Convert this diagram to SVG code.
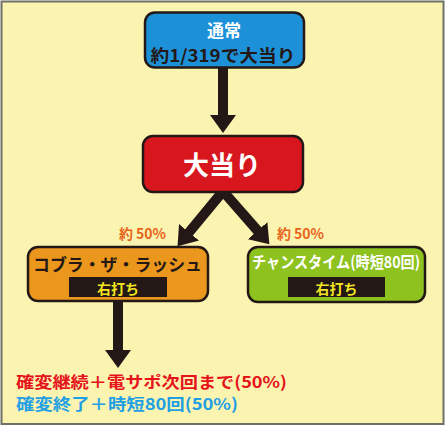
<svg xmlns="http://www.w3.org/2000/svg" width="446" height="426" viewBox="0 0 446 426">
  <style>
    text { font-family: "Noto Sans CJK JP", "Noto Sans", sans-serif; font-weight: bold; text-anchor: middle; }
    .box { stroke: #231815; stroke-width: 2.5; }
    .tag { fill: #231815; }
    .tagtxt { fill: #F3E620; font-size: 14px; }
    .dark { fill: #231815; }
    .white { fill: #FFFFFF; }
    .pct { fill: #E8631A; font-size: 14px; }
    .shaft { stroke: #231815; stroke-width: 10; fill: none; }
  </style>
  <defs>
    <marker id="head" markerUnits="userSpaceOnUse" markerWidth="20" markerHeight="26" refX="1" refY="13" orient="auto" viewBox="0 0 20 26">
      <path d="M0,0 L18,13 L0,26 z" fill="#231815"/>
    </marker>
  </defs>
  <rect x="1.5" y="1.5" width="442" height="422.5" fill="#FBF4B0" stroke="#707066" stroke-width="2"/>

  <g id="connectors">
    <line class="shaft" x1="223" y1="66" x2="223" y2="116" marker-end="url(#head)"/>
    <line class="shaft" x1="224" y1="190" x2="188.4" y2="233.1" marker-end="url(#head)"/>
    <line class="shaft" x1="222" y1="190" x2="258.2" y2="231.4" marker-end="url(#head)"/>
    <line class="shaft" x1="118" y1="300" x2="118" y2="351" marker-end="url(#head)"/>
  </g>

  <g id="node-normal">
    <rect class="box" x="145" y="12.5" width="159" height="55" rx="10" fill="#1D91D8"/>
    <text class="white" x="224" y="37" font-size="17">通常</text>
    <text class="dark" x="223" y="62" font-size="17" textLength="145" lengthAdjust="spacingAndGlyphs">約1/319で大当り</text>
  </g>

  <g id="node-bonus">
    <rect class="box" x="143" y="136" width="160" height="56" rx="10" fill="#D7161D"/>
    <text class="white" x="222" y="175" font-size="26" textLength="78" lengthAdjust="spacingAndGlyphs">大当り</text>
  </g>

  <g id="label-left">
    <text class="pct" x="142.5" y="239">約 50%</text>
  </g>
  <g id="label-right">
    <text class="pct" x="300.5" y="239">約 50%</text>
  </g>

  <g id="node-cobra">
    <rect class="box" x="28" y="247" width="180" height="54" rx="10" fill="#EB961C"/>
    <text class="dark" x="117.5" y="270.5" font-size="17" textLength="169" lengthAdjust="spacingAndGlyphs">コブラ・ザ・ラッシュ</text>
    <rect class="tag" x="69" y="277" width="98" height="20"/>
    <text class="tagtxt" x="118" y="293.5">右打ち</text>
  </g>

  <g id="node-chance">
    <rect class="box" x="248" y="247" width="177" height="55" rx="10" fill="#8DC21F"/>
    <text class="white" x="336" y="268" font-size="16" textLength="168" lengthAdjust="spacingAndGlyphs">チャンスタイム(時短80回)</text>
    <rect class="tag" x="288" y="277" width="97" height="20"/>
    <text class="tagtxt" x="336.5" y="293.5">右打ち</text>
  </g>

  <g id="result">
    <text x="16" y="388" font-size="16" fill="#E5131B" style="text-anchor:start" textLength="271" lengthAdjust="spacingAndGlyphs">確変継続＋電サポ次回まで(50%)</text>
    <text x="16" y="410" font-size="16" fill="#1FA0E4" style="text-anchor:start" textLength="222" lengthAdjust="spacingAndGlyphs">確変終了＋時短80回(50%)</text>
  </g>
</svg>
